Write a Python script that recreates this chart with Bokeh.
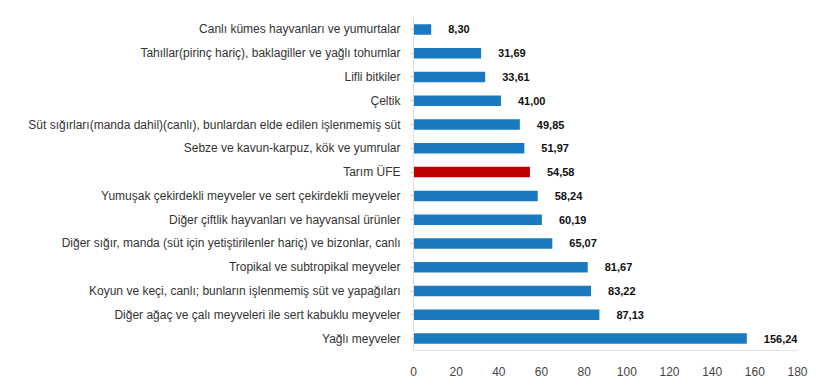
from bokeh.plotting import figure
from bokeh.models import ColumnDataSource, FactorRange, Range1d, FixedTicker, LabelSet
from bokeh.core.properties import value
from bokeh.embed import file_html
from bokeh.resources import INLINE

categories = [
    "Canlı kümes hayvanları ve yumurtalar",
    "Tahıllar(pirinç hariç), baklagiller ve yağlı tohumlar",
    "Lifli bitkiler",
    "Çeltik",
    "Süt sığırları(manda dahil)(canlı), bunlardan elde edilen işlenmemiş süt",
    "Sebze ve kavun-karpuz, kök ve yumrular",
    "Tarım ÜFE",
    "Yumuşak çekirdekli meyveler ve sert çekirdekli meyveler",
    "Diğer çiftlik hayvanları ve hayvansal ürünler",
    "Diğer sığır, manda (süt için yetiştirilenler hariç) ve bizonlar, canlı",
    "Tropikal ve subtropikal meyveler",
    "Koyun ve keçi, canlı; bunların işlenmemiş süt ve yapağıları",
    "Diğer ağaç ve çalı meyveleri ile sert kabuklu meyveler",
    "Yağlı meyveler",
]
values = [8.30, 31.69, 33.61, 41.00, 49.85, 51.97, 54.58, 58.24, 60.19, 65.07, 81.67, 83.22, 87.13, 156.24]
x_ticks = [0, 20, 40, 60, 80, 100, 120, 140, 160, 180]

blue = "#1a7abf"
red = "#bf0000"
colors = [red if c == "Tarım ÜFE" else blue for c in categories]
labels = [f"{v:.2f}".replace(".", ",") for v in values]

src = ColumnDataSource(dict(cat=categories, val=values, color=colors, lab=labels))

p = figure(
    y_range=FactorRange(*reversed(categories), range_padding=0),
    x_range=Range1d(0, 180),
    width=817, height=383,
    output_backend="svg", toolbar_location=None,
    min_border_left=413, min_border_right=20, min_border_top=17, min_border_bottom=33,
)
p.hbar(y="cat", right="val", height=0.44, left=0, source=src,
       fill_color="color", line_color=None)

p.add_layout(LabelSet(x="val", y="cat", text="lab", source=src,
                      x_offset=17, text_baseline="middle", text_align="left",
                      text_font=value("Liberation Sans"), text_font_size="11px",
                      text_font_style="bold", text_color="#111111"))

p.outline_line_color = None
p.grid.grid_line_color = None
p.background_fill_color = "white"
p.border_fill_color = "white"

p.xaxis.ticker = FixedTicker(ticks=x_ticks)
p.xaxis.axis_line_color = "#e4e4e4"
p.xaxis.major_tick_line_color = None
p.xaxis.minor_tick_line_color = None
p.xaxis.major_label_text_font = "Liberation Sans"
p.xaxis.major_label_text_font_size = "12px"
p.xaxis.major_label_text_color = "#444444"
p.xaxis.major_label_standoff = 10

p.yaxis.axis_line_color = "#dddddd"
p.yaxis.major_tick_line_color = "#cccccc"
p.yaxis.major_tick_out = 3
p.yaxis.major_tick_in = 0
p.yaxis.major_label_text_font = "Liberation Sans"
p.yaxis.major_label_text_font_size = "12px"
p.yaxis.major_label_text_color = "#333333"
p.yaxis.major_label_standoff = 10

open("out.html", "w").write(file_html(p, INLINE))
